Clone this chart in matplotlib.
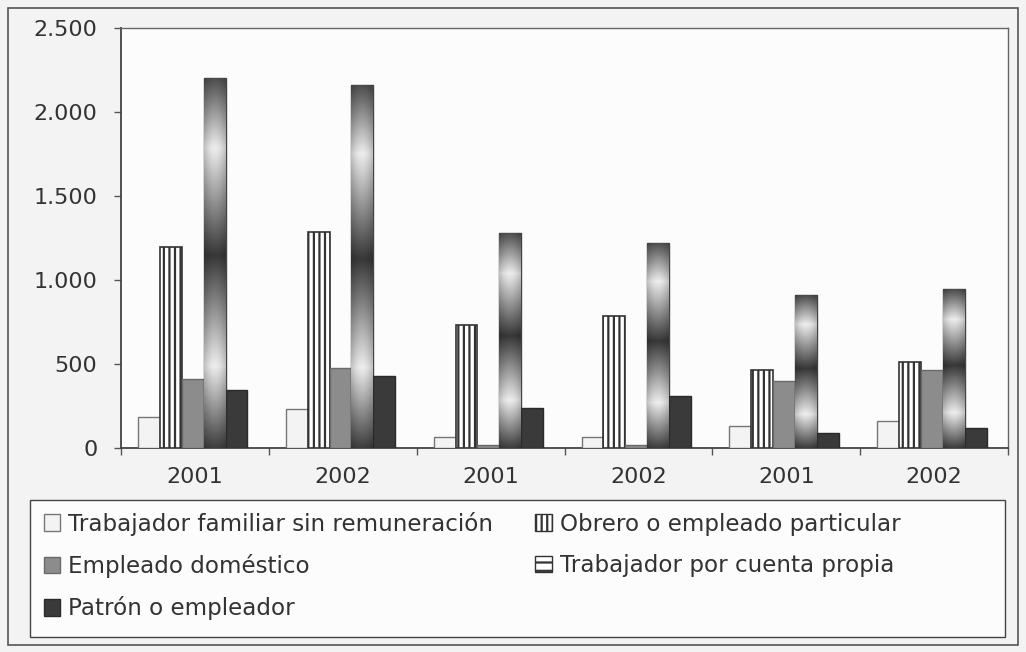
import numpy as np
import matplotlib
matplotlib.use("Agg")
import matplotlib.pyplot as plt
from matplotlib.patches import Patch, Rectangle
from matplotlib.ticker import FuncFormatter, FixedLocator

# data
years = ["2001", "2002", "2001", "2002", "2001", "2002"]
familiar = [186, 232, 65, 65, 131, 159]
obrero = [1197, 1285, 730, 783, 466, 510]
domestico = [412, 476, 20, 16, 397, 466]
cuenta_propia = [2205, 2161, 1281, 1222, 910, 944]
patron = [343, 426, 240, 309, 91, 121]

labels = ["Trabajador familiar sin remuneración", "Obrero o empleado particular",
          "Empleado doméstico", "Trabajador por cuenta propia", "Patrón o empleador"]

plt.rcParams['font.family'] = ['DejaVu Sans']
plt.rcParams['hatch.linewidth'] = 1.6
plt.rcParams['hatch.color'] = '#3a3a3a'

W, H = 1026, 652
fig = plt.figure(figsize=(W / 100, H / 100), dpi=100)
fig.patch.set_facecolor('#f3f3f3')

# outer frame of the chart
fig.patches.append(Rectangle((8 / W, 1 - 645 / H), 1010 / W, 637 / H,
                             transform=fig.transFigure, fill=False,
                             edgecolor='#555555', linewidth=1.2))

ax = fig.add_axes([121 / W, 1 - 448 / H, 887 / W, 420 / H])
ax.set_facecolor('#fcfcfc')

x = np.arange(len(years)) - 0.015
w = 0.148
offs = [-2 * w, -w, 0, w, 2 * w]

b1 = ax.bar(x + offs[0], familiar, w, color='#f3f3f3', edgecolor='#777777', linewidth=1, zorder=3)
b2 = ax.bar(x + offs[1], obrero, w, color='white', edgecolor='#333333', hatch='|||', linewidth=1.2, zorder=3)
b3 = ax.bar(x + offs[2], domestico, w, color='#8c8c8c', edgecolor='#6a6a6a', linewidth=1, zorder=3)
b4 = ax.bar(x + offs[3], cuenta_propia, w, color='#555555', edgecolor='#444444', linewidth=1, zorder=3)
b5 = ax.bar(x + offs[4], patron, w, color='#3a3a3a', edgecolor='#2a2a2a', linewidth=1, zorder=3)

# glossy banded fill for the "cuenta propia" bars
t = np.linspace(1, 0, 200)  # 0 = top of bar
prof = np.interp(t, [0, 0.19, 0.48, 0.78, 1.0], [0.30, 0.93, 0.22, 0.93, 0.25])
horiz = 0.82 + 0.18 * np.sin(np.linspace(0, np.pi, 40))
grad = np.clip(prof[:, None] * horiz[None, :], 0, 1)
for rect in b4:
    x0, y0 = rect.get_x(), rect.get_y()
    im = ax.imshow(grad, extent=[x0, x0 + rect.get_width(), y0, y0 + rect.get_height()],
                   origin='lower', aspect='auto', cmap='gray', vmin=0, vmax=1, zorder=3.5)
    im.set_clip_path(rect)

ax.set_xlim(-0.5, len(years) - 0.5)
ax.set_ylim(0, 2500)
ax.set_yticks([0, 500, 1000, 1500, 2000, 2500])
ax.yaxis.set_major_formatter(FuncFormatter(lambda v, p: f"{int(v):,}".replace(",", ".")))
ax.set_xticks(np.arange(len(years)))
ax.set_xticklabels(years)
ax.xaxis.set_minor_locator(FixedLocator(np.arange(-0.5, len(years), 1)))
ax.tick_params(axis='x', which='major', length=0, pad=14, labelsize=16, colors='#333333')
ax.tick_params(axis='x', which='minor', length=5, width=1, color='#555555')
ax.tick_params(axis='y', length=5, width=1, color='#555555', labelsize=16,
               labelcolor='#333333', pad=12)
for s in ax.spines.values():
    s.set_color('#666666')
    s.set_linewidth(1)
ax.spines['left'].set_color('#444444')
ax.spines['bottom'].set_color('#444444')
ax.spines['left'].set_linewidth(1.3)
ax.spines['bottom'].set_linewidth(1.3)

# legend box drawn separately, legend entries without frame
fig.patches.append(Rectangle((30 / W, 1 - 637 / H), 975 / W, 137 / H,
                             transform=fig.transFigure, facecolor='#fcfcfc',
                             edgecolor='#444444', linewidth=1, zorder=0))
handles = [
    Patch(facecolor='#f3f3f3', edgecolor='#777777', label=labels[0]),
    Patch(facecolor='#8c8c8c', edgecolor='#6a6a6a', label=labels[2]),
    Patch(facecolor='#3a3a3a', edgecolor='#2a2a2a', label=labels[4]),
    Patch(facecolor='white', edgecolor='#333333', hatch='|||', label=labels[1]),
    Patch(facecolor='white', edgecolor='#333333', hatch='--', label=labels[3]),
]
leg = fig.legend(handles=handles, ncol=2, loc='upper left',
                 bbox_to_anchor=(32 / W, 1 - 500 / H),
                 fontsize=16.6, frameon=False,
                 handlelength=0.72, handleheight=0.72, handletextpad=0.35,
                 labelspacing=0.8, columnspacing=1.83, borderpad=0.5, borderaxespad=0)
for txt in leg.get_texts():
    txt.set_color('#333333')

fig.savefig("out.png", dpi=100, facecolor=fig.get_facecolor())
